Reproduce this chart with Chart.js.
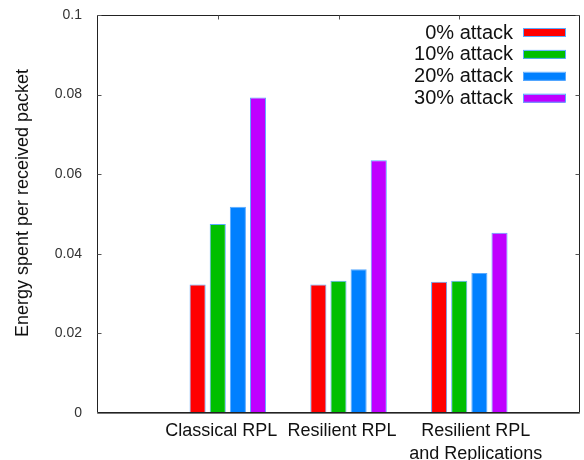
<!DOCTYPE html>
<html>
<head>
<meta charset="utf-8">
<script src="https://cdn.jsdelivr.net/npm/chart.js@4"></script>
<style>
html,body{margin:0;padding:0;background:#fff;}
#wrap{width:584px;height:460px;}
</style>
</head>
<body>
<div id="wrap"><canvas id="c" width="584" height="460"></canvas></div>
<script>
const categories = ['Classical RPL', 'Resilient RPL', ['Resilient RPL', 'and Replications']];
const seriesNames = ['0% attack', '10% attack', '20% attack', '30% attack'];
const attack0 = [0.0323, 0.0323, 0.0330];
const attack10 = [0.0475, 0.0332, 0.0332];
const attack20 = [0.0518, 0.0361, 0.0352];
const attack30 = [0.0793, 0.0635, 0.0453];
const yTicks = [0, 0.02, 0.04, 0.06, 0.08, 0.1];
const yTickLabels = ['0', '0.02', '0.04', '0.06', '0.08', '0.1'];
const colors = ['#ff0000', '#00bf00', '#0080ff', '#bf00ff'];
const FONT = "'Liberation Sans', Arial, sans-serif";
const groupShift = 1 / 12;
const labelNudge = [3.5, 3.5, 16.5];

const series = [attack0, attack10, attack20, attack30];
const datasets = series.map((vals, k) => ({
  label: seriesNames[k],
  data: vals.map((v, i) => ({ x: i + groupShift, y: v })),
  backgroundColor: colors[k],
  borderColor: '#5aaaff',
  borderWidth: 1,
  borderSkipped: 'bottom',
  categoryPercentage: 0.667,
  barPercentage: 0.8
}));

const framePlugin = {
  id: 'frame',
  beforeDatasetsDraw(chart) {
    const { ctx, chartArea: a } = chart;
    const xs = chart.scales.x;
    ctx.save();
    ctx.strokeStyle = '#333';
    ctx.lineWidth = 1;
    ctx.beginPath();
    categories.forEach((_, i) => {
      const px = Math.round(xs.getPixelForValue(i)) + 0.5;
      ctx.moveTo(px, a.bottom); ctx.lineTo(px, a.bottom - 4);
    });
    ctx.stroke();
    ctx.restore();
  },
  afterDatasetsDraw(chart) {
    const { ctx, chartArea: a } = chart;
    const xs = chart.scales.x, ys = chart.scales.y;
    ctx.save();
    ctx.strokeStyle = '#222';
    ctx.lineWidth = 1;
    const L = Math.round(a.left) + 0.5, R = Math.round(a.right) - 0.5;
    const T = Math.round(a.top) + 0.5, B = Math.round(a.bottom) - 0.5;
    ctx.beginPath();
    ctx.moveTo(L, T); ctx.lineTo(R, T); ctx.lineTo(R, B); ctx.lineTo(L, B); ctx.closePath();
    ctx.stroke();
    ctx.strokeStyle = '#555';
    ctx.beginPath();
    yTicks.forEach(v => {
      const py = Math.round(ys.getPixelForValue(v)) + 0.5;
      ctx.moveTo(L, py); ctx.lineTo(L + 4, py);
      ctx.moveTo(R, py); ctx.lineTo(R - 4, py);
    });
    categories.forEach((_, i) => {
      const px = Math.round(xs.getPixelForValue(i)) + 0.5;
      ctx.moveTo(px, T); ctx.lineTo(px, T + 4);
    });
    ctx.stroke();
    ctx.strokeStyle = '#777';
    ctx.beginPath();
    ctx.moveTo(L, B + 1); ctx.lineTo(R, B + 1);
    ctx.stroke();

    // y tick labels
    ctx.fillStyle = '#333';
    ctx.font = '14px ' + FONT;
    ctx.textAlign = 'right';
    ctx.textBaseline = 'middle';
    yTicks.forEach((v, i) => ctx.fillText(yTickLabels[i], 82, ys.getPixelForValue(v)));

    // category labels
    ctx.fillStyle = '#111';
    ctx.font = '18px ' + FONT;
    ctx.textAlign = 'center';
    categories.forEach((lab, i) => {
      const lines = Array.isArray(lab) ? lab : [lab];
      const px = xs.getPixelForValue(i) + labelNudge[i];
      lines.forEach((t, j) => ctx.fillText(t, px, 431 + j * 23));
    });

    // y title
    ctx.save();
    ctx.translate(23, 203);
    ctx.rotate(-Math.PI / 2);
    ctx.font = '18px ' + FONT;
    ctx.fillStyle = '#111';
    ctx.textAlign = 'center';
    ctx.fillText('Energy spent per received packet', 0, 0);
    ctx.restore();

    // legend
    ctx.font = '20px ' + FONT;
    ctx.textAlign = 'right';
    ctx.textBaseline = 'middle';
    chart.data.datasets.forEach((ds, k) => {
      const cy = 33 + k * 21.9;
      ctx.fillStyle = '#111';
      ctx.fillText(ds.label, 513, cy);
      ctx.fillStyle = ds.backgroundColor;
      ctx.fillRect(523, cy - 4, 42, 8);
      ctx.strokeStyle = '#5aaaff';
      ctx.strokeRect(523.5, cy - 4.5, 42, 8);
    });
    ctx.restore();
  }
};

new Chart(document.getElementById('c'), {
  type: 'bar',
  data: { datasets },
  options: {
    responsive: false,
    animation: false,
    layout: { padding: { left: 0, right: 4, top: 15, bottom: 0 } },
    plugins: { legend: { display: false }, tooltip: { enabled: false } },
    scales: {
      x: {
        type: 'linear',
        min: -1,
        max: 3,
        offset: false,
        grid: { display: false, drawTicks: false },
        border: { display: false },
        afterBuildTicks: s => { s.ticks = categories.map((_, i) => ({ value: i })); },
        afterFit: s => { s.height = 47; },
        ticks: { display: false }
      },
      y: {
        min: 0,
        max: 0.1,
        grid: { display: false, drawTicks: false },
        border: { display: false },
        afterBuildTicks: s => { s.ticks = yTicks.map(v => ({ value: v })); },
        afterFit: s => { s.width = 97; },
        ticks: { display: false }
      }
    }
  },
  plugins: [framePlugin]
});
</script>
</body>
</html>
